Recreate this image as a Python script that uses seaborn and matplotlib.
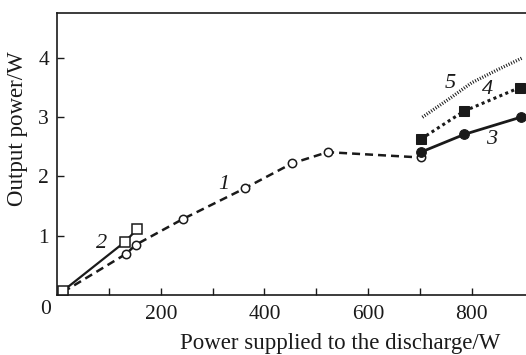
import numpy as np
import pandas as pd
import matplotlib
matplotlib.use('Agg')
import matplotlib.pyplot as plt
import seaborn as sns

sns.set_style('ticks')
plt.rcParams['font.family'] = ['Liberation Serif', 'DejaVu Serif']
plt.rcParams['font.size'] = 15

# curve 1: open circles, dashed
x1 = [11, 132, 152, 242, 362, 453, 522, 702]
y1 = [0.05, 0.69, 0.85, 1.28, 1.80, 2.22, 2.41, 2.32]
# curve 2: open squares, solid
x2 = [11, 131, 154]
y2 = [0.07, 0.90, 1.11]
# curve 3: filled circles, solid
x3 = [702, 786, 895]
y3 = [2.41, 2.71, 3.00]
# curve 4: filled squares, dotted
x4 = [702, 785, 893]
y4 = [2.63, 3.10, 3.50]
# curve 5: fine dotted line
x5 = [705, 760, 800, 850, 898]
y5 = [3.00, 3.33, 3.58, 3.80, 4.00]

curve_labels = ['1', '2', '3', '4', '5']
label_x = [322, 86, 838, 830, 758]
label_y = [1.86, 0.87, 2.62, 3.46, 3.56]

ink = '#1a1a1a'

fig = plt.figure(figsize=(5.26, 3.55), dpi=100)
ax = fig.add_axes([0.109, 0.169, 0.891, 0.794])

sns.lineplot(x=x1, y=y1, ax=ax, color=ink, lw=1.8, linestyle=(0, (3.2, 2.0)),
             marker='o', markersize=6, markerfacecolor='white', markeredgecolor=ink, markeredgewidth=1.1)
sns.lineplot(x=x2, y=y2, ax=ax, color=ink, lw=1.6,
             marker='s', markersize=7, markerfacecolor='white', markeredgecolor=ink, markeredgewidth=1.1)
sns.lineplot(x=x3, y=y3, ax=ax, color=ink, lw=2.0,
             marker='o', markersize=7, markerfacecolor=ink, markeredgecolor=ink)
sns.lineplot(x=x4, y=y4, ax=ax, color=ink, lw=2.2, linestyle=(0, (1.0, 1.1)),
             marker='s', markersize=7, markerfacecolor=ink, markeredgecolor=ink)
sns.lineplot(x=x5, y=y5, ax=ax, color=ink, lw=2.4, linestyle=(0, (0.3, 0.5)))

for t, lx, ly in zip(curve_labels, label_x, label_y):
    ax.text(lx, ly, t, fontsize=16, fontstyle='italic', color=ink, ha='center', va='center')

ax.set_xlim(0, 905)
ax.set_ylim(0, 4.755)
ax.set_xticks([200, 400, 600, 800])
ax.set_xticks([100, 300, 500, 700], minor=True)
ax.set_yticks([1, 2, 3, 4])
ax.tick_params(axis='both', which='both', direction='in', length=5, width=1.0, colors=ink,
               labelsize=15.5, labelcolor=ink)
ax.tick_params(axis='x', pad=7)
ax.tick_params(axis='y', pad=6)
ax.text(-0.026, -0.053, '0', transform=ax.transAxes, fontsize=15.5, color=ink, ha='center', va='center')

for s in ['left', 'bottom', 'top']:
    ax.spines[s].set_linewidth(1.2)
    ax.spines[s].set_color(ink)
ax.spines['right'].set_visible(False)

ax.set_xlabel('Power supplied to the discharge/W', fontsize=16.5, color=ink, loc='right')
ax.xaxis.set_label_coords(0.945, -0.136)
ax.set_ylabel('Output power/W', fontsize=16.5, color=ink)
ax.yaxis.set_label_coords(-0.062, 0.59)

fig.savefig('out.png', dpi=100)
